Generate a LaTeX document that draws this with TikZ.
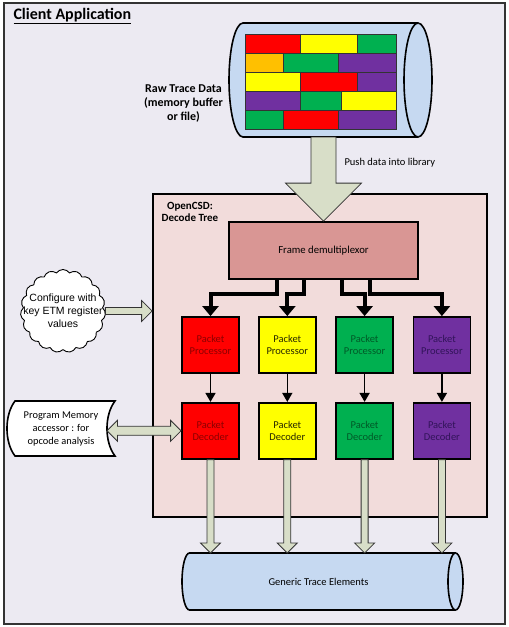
\documentclass[tikz,border=0pt]{standalone}
\usepackage{fontspec}
\setmainfont{Carlito}
\newfontfamily\arialfont{Liberation Sans}
\usetikzlibrary{positioning,shapes.symbols,arrows.meta,calc}

\definecolor{clientbg}{RGB}{236,234,242}
\definecolor{treebg}{RGB}{242,220,219}
\definecolor{demuxbg}{RGB}{217,150,148}
\definecolor{cylbg}{RGB}{198,217,241}
\definecolor{fatbg}{RGB}{216,222,200}
\definecolor{brred}{RGB}{255,0,0}
\definecolor{bryellow}{RGB}{255,255,0}
\definecolor{brgreen}{RGB}{0,176,80}
\definecolor{brpurple}{RGB}{112,48,160}
\definecolor{brorange}{RGB}{255,192,0}
\definecolor{txred}{RGB}{140,0,0}
\definecolor{txyellow}{RGB}{40,40,0}
\definecolor{txgreen}{RGB}{0,90,40}
\definecolor{txpurple}{RGB}{50,20,90}

% block arrows drawn from node to node
\newcommand\blockdown[5]{%
  \filldraw[fatarrow] let \p1=(#1), \p2=(#2) in
    (\x2-#3,\y1) -- (\x2-#3,\y2+#5) -- (\x2-#4,\y2+#5) -- (\x2,\y2)
    -- (\x2+#4,\y2+#5) -- (\x2+#3,\y2+#5) -- (\x2+#3,\y1) -- cycle;}
\newcommand\blockright[5]{%
  \filldraw[fatarrow] let \p1=(#1), \p2=(#2) in
    (\x1,\y1-#3) -- (\x2-#5,\y1-#3) -- (\x2-#5,\y1-#4) -- (\x2,\y1)
    -- (\x2-#5,\y1+#4) -- (\x2-#5,\y1+#3) -- (\x1,\y1+#3) -- cycle;}
\newcommand\blockboth[5]{%
  \filldraw[fatarrow] let \p1=(#1), \p2=(#2) in
    (\x1,\y2) -- (\x1+#5,\y2+#4) -- (\x1+#5,\y2+#3) -- (\x2-#5,\y2+#3)
    -- (\x2-#5,\y2+#4) -- (\x2,\y2) -- (\x2-#5,\y2-#4) -- (\x2-#5,\y2-#3)
    -- (\x1+#5,\y2-#3) -- (\x1+#5,\y2-#4) -- cycle;}
% lying drum round a placeholder node: name, x radius, y radius
\newcommand\drum[3]{%
  \filldraw[cyl] ([xshift=#2]#1.north west) -- ([xshift=-#2]#1.north east)
    arc[start angle=90, end angle=-90, x radius=#2, y radius=#3]
    -- ([xshift=#2]#1.south west)
    arc[start angle=270, end angle=90, x radius=#2, y radius=#3] -- cycle;
  \draw[cyl] ([xshift=-#2]#1.north east)
    arc[start angle=90, end angle=270, x radius=#2, y radius=#3];}

\begin{document}
\begin{tikzpicture}[x=1pt, y=-1pt, font=\fontsize{10.5}{13}\selectfont]
\tikzset{
  holder/.style={inner sep=0pt, outer sep=0pt},
  cyl/.style={draw=black, line width=1.6pt, fill=cylbg},
  brick/.style={draw=black!80, line width=0.6pt},
  unit/.style={draw=black, line width=1.8pt, minimum width=57pt, minimum height=56pt,
    inner sep=0pt, align=center, font=\fontsize{10.5}{12.7}\selectfont},
  bus/.style={line width=4pt, -{Triangle[width=16pt,length=10pt]}},
  link/.style={line width=1.6pt, -{Triangle[width=10pt,length=9pt]}},
  fatarrow/.style={draw=black!80, line width=0.8pt, fill=fatbg},
}
\useasboundingbox (0,0) rectangle (509,627);

% Client application frame
\node[draw=black!80, fill=clientbg, line width=2.2pt, minimum width=501pt, minimum height=621pt, inner sep=0pt] (client) at (254.5,313.5) {};
\node[anchor=west, font=\fontsize{16}{19}\selectfont\bfseries] (clienttitle) at (10,16) {\underline{Client Application}};

% Raw trace data buffer
\node[holder, minimum width=203pt, minimum height=114pt] (raw) at (330.5,80) {};
\drum{raw}{14pt}{57pt}
\foreach \ry/\bricks in {34/{245/300/brred,300/357/bryellow,357/396/brgreen},
    53/{245/283/brorange,283/338/brgreen,338/396/brpurple},
    72/{245/300/bryellow,300/357/brred,357/396/brpurple},
    91/{245/300/brpurple,300/341/brgreen,341/396/bryellow},
    110/{245/283/brgreen,283/338/brred,338/396/brpurple}}
  \foreach \a/\b/\c in \bricks
    \filldraw[brick, fill=\c] (\a,\ry) rectangle (\b,\ry+19);
\node[align=center, font=\fontsize{12}{14}\selectfont\bfseries] (rawlabel) at (183.5,104) {Raw Trace Data\\(memory buffer\\or file)};

% Decode tree
\node[draw=black, fill=treebg, line width=1.8pt, minimum width=334pt, minimum height=323pt, inner sep=0pt] (tree) at (320,355.5) {};
\node[align=center, font=\fontsize{11}{12.5}\selectfont\bfseries] (treelabel) at (190,212) {OpenCSD:\\Decode Tree};
\node[draw=black, fill=demuxbg, line width=1.8pt, minimum width=189pt, minimum height=57pt] (demux) at (323.5,250.5) {\fontsize{10.7}{13}\selectfont Frame demultiplexor};

% Push arrow
\blockdown{raw.south}{demux.north}{12.5pt}{38pt}{38pt}
\node[anchor=west, font=\fontsize{10.5}{12}\selectfont] (pushlabel) at (341,163) {Push data into library};

% Packet processors and decoders
\node[unit, fill=brred, text=txred] (proc1) at (210.5,345) {Packet\\Processor};
\node[unit, fill=bryellow, text=txyellow, right=18pt of proc1] (proc2) {Packet\\Processor};
\node[unit, fill=brgreen, text=txgreen, right=18.5pt of proc2] (proc3) {Packet\\Processor};
\node[unit, fill=brpurple, text=txpurple, right=18.5pt of proc3] (proc4) {Packet\\Processor};

\node[unit, fill=brred, text=txred, below=28pt of proc1] (dec1) {Packet\\Decoder};
\node[unit, fill=bryellow, text=txyellow, below=28pt of proc2] (dec2) {Packet\\Decoder};
\node[unit, fill=brgreen, text=txgreen, below=28pt of proc3] (dec3) {Packet\\Decoder};
\node[unit, fill=brpurple, text=txpurple, below=28pt of proc4] (dec4) {Packet\\Decoder};

\draw[bus] ([xshift=-46.5pt]demux.south) -- ++(0,14) -| (proc1.north);
\draw[bus] ([xshift=-19.5pt]demux.south) -- ++(0,14) -| (proc2.north);
\draw[bus] ([xshift=18.5pt]demux.south) -- ++(0,14) -| (proc3.north);
\draw[bus] ([xshift=46.5pt]demux.south) -- ++(0,14) -| (proc4.north);

\foreach \i in {1,...,4}
  \draw[link] (proc\i.south) -- (dec\i.north);

% Generic trace elements
\node[holder, minimum width=281pt, minimum height=57pt] (generic) at (322.5,581.5) {};
\drum{generic}{7.5pt}{28.5pt}
\node (generictext) at ([xshift=-4pt]generic.center) {Generic Trace Elements};
\foreach \i in {1,...,4}{
  \blockdown{dec\i.south}{dec\i.south |- generic.north}{3.5pt}{10pt}{10pt}
}

% Configuration cloud
\node[cloud, cloud puffs=19, cloud puff arc=110, aspect=1, draw=black, line width=0.9pt, fill=white,
  minimum width=85pt, minimum height=83pt, inner sep=0pt, align=center,
  font=\arialfont\fontsize{10.5}{13}\selectfont] (config) at (63,311)
  {\makebox[0pt]{Configure with}\\\makebox[0pt]{key ETM register}\\\makebox[0pt]{values}};
\blockright{config.east}{tree.west}{3.5pt}{10.5pt}{10.5pt}

% Program memory accessor
\node[holder, minimum width=108pt, minimum height=55pt] (progmem) at (61,428.5) {};
\filldraw[draw=black, line width=1.6pt, fill=white] ([xshift=8pt]progmem.north west) -- (progmem.north east)
  .. controls ([xshift=-10.7pt,yshift=-14pt]progmem.north east) and ([xshift=-10.7pt,yshift=14pt]progmem.south east) .. (progmem.south east)
  -- ([xshift=8pt]progmem.south west)
  .. controls ([xshift=-2.7pt,yshift=14pt]progmem.south west) and ([xshift=-2.7pt,yshift=-14pt]progmem.north west) .. cycle;
\node[align=center, font=\fontsize{10.4}{13}\selectfont] (progmemtext) at (progmem) {Program Memory\\accessor : for\\opcode analysis};
\blockboth{[xshift=-8pt]progmem.east}{dec1.west}{4.5pt}{10.5pt}{10.5pt}

\end{tikzpicture}
\end{document}
